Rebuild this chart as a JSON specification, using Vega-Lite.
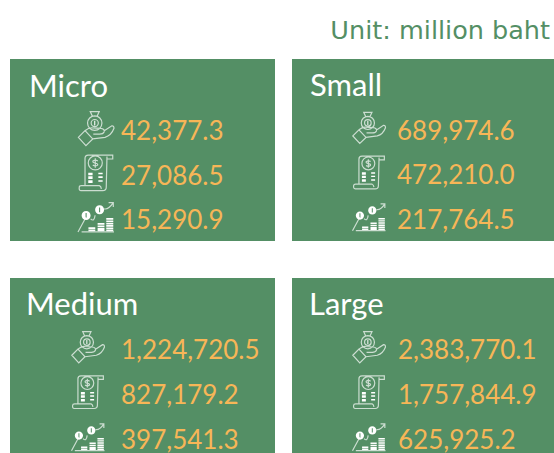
{"$schema":"https://vega.github.io/schema/vega-lite/v6.json","background":"white","padding":{"left":10,"top":18,"right":0,"bottom":0},"title":{"text":"Unit: million baht","anchor":"end","font":"DejaVu Sans","fontSize":25.5,"fontWeight":"normal","color":"#548f65","dx":-7,"offset":15},"config":{"view":{"stroke":null,"fill":"#548f65"},"axis":{"domain":false}},"data":{"values":[{"group":"Micro","metric":"Income","value":42377.3},{"group":"Micro","metric":"Expenses","value":27086.5},{"group":"Micro","metric":"Profit","value":15290.9},{"group":"Small","metric":"Income","value":689974.6},{"group":"Small","metric":"Expenses","value":472210.0},{"group":"Small","metric":"Profit","value":217764.5},{"group":"Medium","metric":"Income","value":1224720.5},{"group":"Medium","metric":"Expenses","value":827179.2},{"group":"Medium","metric":"Profit","value":397541.3},{"group":"Large","metric":"Income","value":2383770.1},{"group":"Large","metric":"Expenses","value":1757844.9},{"group":"Large","metric":"Profit","value":625925.2}]},"columns":2,"spacing":{"column":17,"row":37},"concat":[
{"width":265,"height":182,"transform":[{"filter":"datum.group==='Micro'"}],"resolve":{"scale":{"shape":"independent"}},"layer":[
{"mark":{"type":"point","filled":false,"stroke":"white","strokeWidth":1.2,"size":1296},"encoding":{"x":{"datum":"icon","type":"ordinal","axis":null,"scale":{"type":"point","padding":0,"domain":["header","icon","value"],"range":[61,111]}},"y":{"field":"metric","type":"ordinal","axis":null,"scale":{"type":"point","padding":0,"domain":["header","Income","Expenses","Profit"],"range":[25,158]}},"shape":{"field":"metric","legend":null,"scale":{"domain":["Income","Expenses","Profit"],"range":["M-0.47 -0.29 a0.4 0.4 0 1 0 0.8 0 a0.4 0.4 0 1 0 -0.8 0 M-0.27 -0.29 a0.2 0.2 0 1 0 0.4 0 a0.2 0.2 0 1 0 -0.4 0 M-0.2 -0.67 L-0.32 -0.93 L0.18 -0.93 L0.06 -0.67 M-0.25 -0.67 L0.1 -0.67 M-0.98 0.5 L-0.61 0.13 L-0.18 0.59 L-0.56 0.96 Z M-0.61 0.13 Q-0.4 -0.05 -0.2 -0.03 L0.25 0 Q0.5 0.03 0.45 0.2 Q0.4 0.32 0.2 0.32 L-0.15 0.32 M0.48 0.12 L0.88 -0.14 Q1 -0.15 1 0 Q0.85 0.4 0.5 0.5 L-0.18 0.59","M-0.61 0.72 L-0.61 -0.8 Q-0.61 -0.98 -0.43 -0.98 L0.93 -0.98 L0.93 -0.76 L0.61 -0.76 M0.61 -0.9 L0.57 0.81 Q0.57 1 0.37 1 L-0.83 1 Q-0.96 1 -0.93 0.81 Q-0.93 0.72 -0.81 0.72 L0.19 0.72 Q0.28 0.75 0.3 0.9 M-0.43 -0.54 a0.39 0.39 0 1 0 0.78 0 a0.39 0.39 0 1 0 -0.78 0 M0.1 -0.65 Q-0.04 -0.75 -0.17 -0.65 Q-0.2 -0.55 -0.04 -0.53 Q0.12 -0.5 0.09 -0.42 Q-0.04 -0.32 -0.18 -0.42 M-0.04 -0.8 L-0.04 -0.28","M-1 0.83 L-0.55 0 M-0.8 0.83 L1 0.83 M-0.3 0.1 Q-0.1 0.3 -0.05 -0.1 M0.45 -0.45 Q0.7 -0.4 0.96 -0.8 M0.7 -0.8 L0.96 -0.8 L0.96 -0.55"]}}}},
{"mark":{"type":"point","filled":true,"fill":"white","opacity":1,"strokeWidth":0,"size":1296},"encoding":{"x":{"datum":"icon","type":"ordinal"},"y":{"field":"metric","type":"ordinal"},"shape":{"field":"metric","legend":null,"scale":{"domain":["Income","Expenses","Profit"],"range":["M-0.1 -0.42 H-0.04 V-0.16 H-0.1 Z","M-0.43 0 H-0.19 V0.15 H-0.43 Z M-0.43 0.2 H-0.19 V0.35 H-0.43 Z M-0.43 0.42 H-0.19 V0.57 H-0.43 Z M0.13 0 H0.37 V0.09 H0.13 Z M0.13 0.2 H0.37 V0.29 H0.13 Z M0.13 0.42 H0.37 V0.51 H0.13 Z","M-0.8 -0.09 a0.25 0.25 0 1 0 0.5 0 a0.25 0.25 0 1 0 -0.5 0 M-0.58 -0.22 H-0.52 V0.04 H-0.58 Z M-0.05 -0.4 a0.25 0.25 0 1 0 0.5 0 a0.25 0.25 0 1 0 -0.5 0 M0.17 -0.53 H0.23 V-0.27 H0.17 Z M-0.42 0.57 H-0.04 V0.66 H-0.42 Z M-0.42 0.7 H-0.04 V0.79 H-0.42 Z M0.09 0.34 H0.47 V0.43 H0.09 Z M0.09 0.47 H0.47 V0.56 H0.09 Z M0.09 0.6 H0.47 V0.69 H0.09 Z M0.09 0.7 H0.47 V0.79 H0.09 Z M0.57 0.06 H0.96 V0.15 H0.57 Z M0.57 0.19 H0.96 V0.28 H0.57 Z M0.57 0.32 H0.96 V0.41 H0.57 Z M0.57 0.45 H0.96 V0.54 H0.57 Z M0.57 0.58 H0.96 V0.67 H0.57 Z M0.57 0.7 H0.96 V0.79 H0.57 Z"]}}}},
{"mark":{"type":"text","align":"left","baseline":"middle","font":"Lato","fontSize":26,"fill":"#f7b657","dy":4},"encoding":{"x":{"datum":"value","type":"ordinal"},"y":{"field":"metric","type":"ordinal"},"text":{"field":"value","type":"quantitative","format":",.1f"}}},
{"transform":[{"filter":"datum.metric==='Income'"}],"mark":{"type":"text","align":"left","baseline":"middle","font":"Lato","fontSize":31,"fill":"white","dx":-42,"dy":4},"encoding":{"x":{"datum":"header","type":"ordinal"},"y":{"datum":"header","type":"ordinal"},"text":{"field":"group"}}}
]},
{"width":265,"height":182,"transform":[{"filter":"datum.group==='Small'"}],"resolve":{"scale":{"shape":"independent"}},"layer":[
{"mark":{"type":"point","filled":false,"stroke":"white","strokeWidth":1.2,"size":1089},"encoding":{"x":{"datum":"icon","type":"ordinal","axis":null,"scale":{"type":"point","padding":0,"domain":["header","icon","value"],"range":[49,105]}},"y":{"field":"metric","type":"ordinal","axis":null,"scale":{"type":"point","padding":0,"domain":["header","Income","Expenses","Profit"],"range":[24,158]}},"shape":{"field":"metric","legend":null,"scale":{"domain":["Income","Expenses","Profit"],"range":["M-0.47 -0.29 a0.4 0.4 0 1 0 0.8 0 a0.4 0.4 0 1 0 -0.8 0 M-0.27 -0.29 a0.2 0.2 0 1 0 0.4 0 a0.2 0.2 0 1 0 -0.4 0 M-0.2 -0.67 L-0.32 -0.93 L0.18 -0.93 L0.06 -0.67 M-0.25 -0.67 L0.1 -0.67 M-0.98 0.5 L-0.61 0.13 L-0.18 0.59 L-0.56 0.96 Z M-0.61 0.13 Q-0.4 -0.05 -0.2 -0.03 L0.25 0 Q0.5 0.03 0.45 0.2 Q0.4 0.32 0.2 0.32 L-0.15 0.32 M0.48 0.12 L0.88 -0.14 Q1 -0.15 1 0 Q0.85 0.4 0.5 0.5 L-0.18 0.59","M-0.61 0.72 L-0.61 -0.8 Q-0.61 -0.98 -0.43 -0.98 L0.93 -0.98 L0.93 -0.76 L0.61 -0.76 M0.61 -0.9 L0.57 0.81 Q0.57 1 0.37 1 L-0.83 1 Q-0.96 1 -0.93 0.81 Q-0.93 0.72 -0.81 0.72 L0.19 0.72 Q0.28 0.75 0.3 0.9 M-0.43 -0.54 a0.39 0.39 0 1 0 0.78 0 a0.39 0.39 0 1 0 -0.78 0 M0.1 -0.65 Q-0.04 -0.75 -0.17 -0.65 Q-0.2 -0.55 -0.04 -0.53 Q0.12 -0.5 0.09 -0.42 Q-0.04 -0.32 -0.18 -0.42 M-0.04 -0.8 L-0.04 -0.28","M-1 0.83 L-0.55 0 M-0.8 0.83 L1 0.83 M-0.3 0.1 Q-0.1 0.3 -0.05 -0.1 M0.45 -0.45 Q0.7 -0.4 0.96 -0.8 M0.7 -0.8 L0.96 -0.8 L0.96 -0.55"]}}}},
{"mark":{"type":"point","filled":true,"fill":"white","opacity":1,"strokeWidth":0,"size":1089},"encoding":{"x":{"datum":"icon","type":"ordinal"},"y":{"field":"metric","type":"ordinal"},"shape":{"field":"metric","legend":null,"scale":{"domain":["Income","Expenses","Profit"],"range":["M-0.1 -0.42 H-0.04 V-0.16 H-0.1 Z","M-0.43 0 H-0.19 V0.15 H-0.43 Z M-0.43 0.2 H-0.19 V0.35 H-0.43 Z M-0.43 0.42 H-0.19 V0.57 H-0.43 Z M0.13 0 H0.37 V0.09 H0.13 Z M0.13 0.2 H0.37 V0.29 H0.13 Z M0.13 0.42 H0.37 V0.51 H0.13 Z","M-0.8 -0.09 a0.25 0.25 0 1 0 0.5 0 a0.25 0.25 0 1 0 -0.5 0 M-0.58 -0.22 H-0.52 V0.04 H-0.58 Z M-0.05 -0.4 a0.25 0.25 0 1 0 0.5 0 a0.25 0.25 0 1 0 -0.5 0 M0.17 -0.53 H0.23 V-0.27 H0.17 Z M-0.42 0.57 H-0.04 V0.66 H-0.42 Z M-0.42 0.7 H-0.04 V0.79 H-0.42 Z M0.09 0.34 H0.47 V0.43 H0.09 Z M0.09 0.47 H0.47 V0.56 H0.09 Z M0.09 0.6 H0.47 V0.69 H0.09 Z M0.09 0.7 H0.47 V0.79 H0.09 Z M0.57 0.06 H0.96 V0.15 H0.57 Z M0.57 0.19 H0.96 V0.28 H0.57 Z M0.57 0.32 H0.96 V0.41 H0.57 Z M0.57 0.45 H0.96 V0.54 H0.57 Z M0.57 0.58 H0.96 V0.67 H0.57 Z M0.57 0.7 H0.96 V0.79 H0.57 Z"]}}}},
{"mark":{"type":"text","align":"left","baseline":"middle","font":"Lato","fontSize":26,"fill":"#f7b657","dy":4},"encoding":{"x":{"datum":"value","type":"ordinal"},"y":{"field":"metric","type":"ordinal"},"text":{"field":"value","type":"quantitative","format":",.1f"}}},
{"transform":[{"filter":"datum.metric==='Income'"}],"mark":{"type":"text","align":"left","baseline":"middle","font":"Lato","fontSize":31,"fill":"white","dx":-31,"dy":4},"encoding":{"x":{"datum":"header","type":"ordinal"},"y":{"datum":"header","type":"ordinal"},"text":{"field":"group"}}}
]},
{"width":265,"height":182,"transform":[{"filter":"datum.group==='Medium'"}],"resolve":{"scale":{"shape":"independent"}},"layer":[
{"mark":{"type":"point","filled":false,"stroke":"white","strokeWidth":1.2,"size":1089},"encoding":{"x":{"datum":"icon","type":"ordinal","axis":null,"scale":{"type":"point","padding":0,"domain":["header","icon","value"],"range":[45,111]}},"y":{"field":"metric","type":"ordinal","axis":null,"scale":{"type":"point","padding":0,"domain":["header","Income","Expenses","Profit"],"range":[24,159]}},"shape":{"field":"metric","legend":null,"scale":{"domain":["Income","Expenses","Profit"],"range":["M-0.47 -0.29 a0.4 0.4 0 1 0 0.8 0 a0.4 0.4 0 1 0 -0.8 0 M-0.27 -0.29 a0.2 0.2 0 1 0 0.4 0 a0.2 0.2 0 1 0 -0.4 0 M-0.2 -0.67 L-0.32 -0.93 L0.18 -0.93 L0.06 -0.67 M-0.25 -0.67 L0.1 -0.67 M-0.98 0.5 L-0.61 0.13 L-0.18 0.59 L-0.56 0.96 Z M-0.61 0.13 Q-0.4 -0.05 -0.2 -0.03 L0.25 0 Q0.5 0.03 0.45 0.2 Q0.4 0.32 0.2 0.32 L-0.15 0.32 M0.48 0.12 L0.88 -0.14 Q1 -0.15 1 0 Q0.85 0.4 0.5 0.5 L-0.18 0.59","M-0.61 0.72 L-0.61 -0.8 Q-0.61 -0.98 -0.43 -0.98 L0.93 -0.98 L0.93 -0.76 L0.61 -0.76 M0.61 -0.9 L0.57 0.81 Q0.57 1 0.37 1 L-0.83 1 Q-0.96 1 -0.93 0.81 Q-0.93 0.72 -0.81 0.72 L0.19 0.72 Q0.28 0.75 0.3 0.9 M-0.43 -0.54 a0.39 0.39 0 1 0 0.78 0 a0.39 0.39 0 1 0 -0.78 0 M0.1 -0.65 Q-0.04 -0.75 -0.17 -0.65 Q-0.2 -0.55 -0.04 -0.53 Q0.12 -0.5 0.09 -0.42 Q-0.04 -0.32 -0.18 -0.42 M-0.04 -0.8 L-0.04 -0.28","M-1 0.83 L-0.55 0 M-0.8 0.83 L1 0.83 M-0.3 0.1 Q-0.1 0.3 -0.05 -0.1 M0.45 -0.45 Q0.7 -0.4 0.96 -0.8 M0.7 -0.8 L0.96 -0.8 L0.96 -0.55"]}}}},
{"mark":{"type":"point","filled":true,"fill":"white","opacity":1,"strokeWidth":0,"size":1089},"encoding":{"x":{"datum":"icon","type":"ordinal"},"y":{"field":"metric","type":"ordinal"},"shape":{"field":"metric","legend":null,"scale":{"domain":["Income","Expenses","Profit"],"range":["M-0.1 -0.42 H-0.04 V-0.16 H-0.1 Z","M-0.43 0 H-0.19 V0.15 H-0.43 Z M-0.43 0.2 H-0.19 V0.35 H-0.43 Z M-0.43 0.42 H-0.19 V0.57 H-0.43 Z M0.13 0 H0.37 V0.09 H0.13 Z M0.13 0.2 H0.37 V0.29 H0.13 Z M0.13 0.42 H0.37 V0.51 H0.13 Z","M-0.8 -0.09 a0.25 0.25 0 1 0 0.5 0 a0.25 0.25 0 1 0 -0.5 0 M-0.58 -0.22 H-0.52 V0.04 H-0.58 Z M-0.05 -0.4 a0.25 0.25 0 1 0 0.5 0 a0.25 0.25 0 1 0 -0.5 0 M0.17 -0.53 H0.23 V-0.27 H0.17 Z M-0.42 0.57 H-0.04 V0.66 H-0.42 Z M-0.42 0.7 H-0.04 V0.79 H-0.42 Z M0.09 0.34 H0.47 V0.43 H0.09 Z M0.09 0.47 H0.47 V0.56 H0.09 Z M0.09 0.6 H0.47 V0.69 H0.09 Z M0.09 0.7 H0.47 V0.79 H0.09 Z M0.57 0.06 H0.96 V0.15 H0.57 Z M0.57 0.19 H0.96 V0.28 H0.57 Z M0.57 0.32 H0.96 V0.41 H0.57 Z M0.57 0.45 H0.96 V0.54 H0.57 Z M0.57 0.58 H0.96 V0.67 H0.57 Z M0.57 0.7 H0.96 V0.79 H0.57 Z"]}}}},
{"mark":{"type":"text","align":"left","baseline":"middle","font":"Lato","fontSize":26,"fill":"#f7b657","dy":4},"encoding":{"x":{"datum":"value","type":"ordinal"},"y":{"field":"metric","type":"ordinal"},"text":{"field":"value","type":"quantitative","format":",.1f"}}},
{"transform":[{"filter":"datum.metric==='Income'"}],"mark":{"type":"text","align":"left","baseline":"middle","font":"Lato","fontSize":31,"fill":"white","dx":-29,"dy":4},"encoding":{"x":{"datum":"header","type":"ordinal"},"y":{"datum":"header","type":"ordinal"},"text":{"field":"group"}}}
]},
{"width":265,"height":182,"transform":[{"filter":"datum.group==='Large'"}],"resolve":{"scale":{"shape":"independent"}},"layer":[
{"mark":{"type":"point","filled":false,"stroke":"white","strokeWidth":1.2,"size":1089},"encoding":{"x":{"datum":"icon","type":"ordinal","axis":null,"scale":{"type":"point","padding":0,"domain":["header","icon","value"],"range":[48,106]}},"y":{"field":"metric","type":"ordinal","axis":null,"scale":{"type":"point","padding":0,"domain":["header","Income","Expenses","Profit"],"range":[24,159]}},"shape":{"field":"metric","legend":null,"scale":{"domain":["Income","Expenses","Profit"],"range":["M-0.47 -0.29 a0.4 0.4 0 1 0 0.8 0 a0.4 0.4 0 1 0 -0.8 0 M-0.27 -0.29 a0.2 0.2 0 1 0 0.4 0 a0.2 0.2 0 1 0 -0.4 0 M-0.2 -0.67 L-0.32 -0.93 L0.18 -0.93 L0.06 -0.67 M-0.25 -0.67 L0.1 -0.67 M-0.98 0.5 L-0.61 0.13 L-0.18 0.59 L-0.56 0.96 Z M-0.61 0.13 Q-0.4 -0.05 -0.2 -0.03 L0.25 0 Q0.5 0.03 0.45 0.2 Q0.4 0.32 0.2 0.32 L-0.15 0.32 M0.48 0.12 L0.88 -0.14 Q1 -0.15 1 0 Q0.85 0.4 0.5 0.5 L-0.18 0.59","M-0.61 0.72 L-0.61 -0.8 Q-0.61 -0.98 -0.43 -0.98 L0.93 -0.98 L0.93 -0.76 L0.61 -0.76 M0.61 -0.9 L0.57 0.81 Q0.57 1 0.37 1 L-0.83 1 Q-0.96 1 -0.93 0.81 Q-0.93 0.72 -0.81 0.72 L0.19 0.72 Q0.28 0.75 0.3 0.9 M-0.43 -0.54 a0.39 0.39 0 1 0 0.78 0 a0.39 0.39 0 1 0 -0.78 0 M0.1 -0.65 Q-0.04 -0.75 -0.17 -0.65 Q-0.2 -0.55 -0.04 -0.53 Q0.12 -0.5 0.09 -0.42 Q-0.04 -0.32 -0.18 -0.42 M-0.04 -0.8 L-0.04 -0.28","M-1 0.83 L-0.55 0 M-0.8 0.83 L1 0.83 M-0.3 0.1 Q-0.1 0.3 -0.05 -0.1 M0.45 -0.45 Q0.7 -0.4 0.96 -0.8 M0.7 -0.8 L0.96 -0.8 L0.96 -0.55"]}}}},
{"mark":{"type":"point","filled":true,"fill":"white","opacity":1,"strokeWidth":0,"size":1089},"encoding":{"x":{"datum":"icon","type":"ordinal"},"y":{"field":"metric","type":"ordinal"},"shape":{"field":"metric","legend":null,"scale":{"domain":["Income","Expenses","Profit"],"range":["M-0.1 -0.42 H-0.04 V-0.16 H-0.1 Z","M-0.43 0 H-0.19 V0.15 H-0.43 Z M-0.43 0.2 H-0.19 V0.35 H-0.43 Z M-0.43 0.42 H-0.19 V0.57 H-0.43 Z M0.13 0 H0.37 V0.09 H0.13 Z M0.13 0.2 H0.37 V0.29 H0.13 Z M0.13 0.42 H0.37 V0.51 H0.13 Z","M-0.8 -0.09 a0.25 0.25 0 1 0 0.5 0 a0.25 0.25 0 1 0 -0.5 0 M-0.58 -0.22 H-0.52 V0.04 H-0.58 Z M-0.05 -0.4 a0.25 0.25 0 1 0 0.5 0 a0.25 0.25 0 1 0 -0.5 0 M0.17 -0.53 H0.23 V-0.27 H0.17 Z M-0.42 0.57 H-0.04 V0.66 H-0.42 Z M-0.42 0.7 H-0.04 V0.79 H-0.42 Z M0.09 0.34 H0.47 V0.43 H0.09 Z M0.09 0.47 H0.47 V0.56 H0.09 Z M0.09 0.6 H0.47 V0.69 H0.09 Z M0.09 0.7 H0.47 V0.79 H0.09 Z M0.57 0.06 H0.96 V0.15 H0.57 Z M0.57 0.19 H0.96 V0.28 H0.57 Z M0.57 0.32 H0.96 V0.41 H0.57 Z M0.57 0.45 H0.96 V0.54 H0.57 Z M0.57 0.58 H0.96 V0.67 H0.57 Z M0.57 0.7 H0.96 V0.79 H0.57 Z"]}}}},
{"mark":{"type":"text","align":"left","baseline":"middle","font":"Lato","fontSize":26,"fill":"#f7b657","dy":4},"encoding":{"x":{"datum":"value","type":"ordinal"},"y":{"field":"metric","type":"ordinal"},"text":{"field":"value","type":"quantitative","format":",.1f"}}},
{"transform":[{"filter":"datum.metric==='Income'"}],"mark":{"type":"text","align":"left","baseline":"middle","font":"Lato","fontSize":31,"fill":"white","dx":-31,"dy":4},"encoding":{"x":{"datum":"header","type":"ordinal"},"y":{"datum":"header","type":"ordinal"},"text":{"field":"group"}}}
]}
]}
